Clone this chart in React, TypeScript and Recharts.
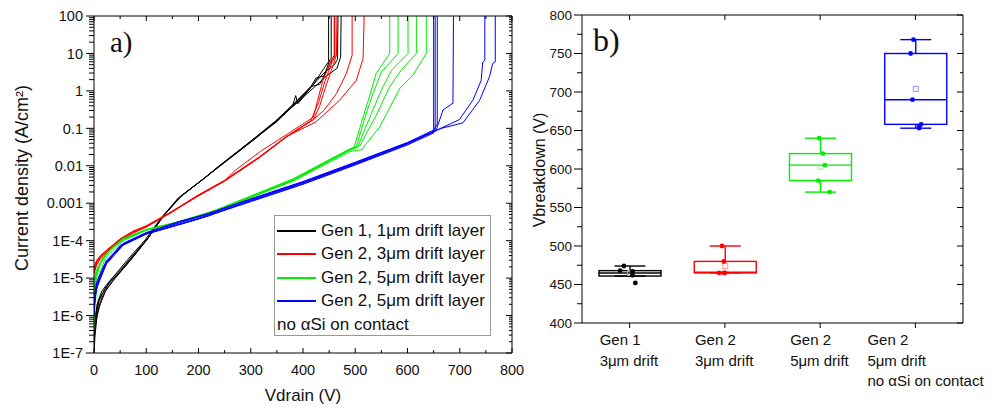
import { LineChart, Line, XAxis, YAxis, ComposedChart, Bar, Scatter } from "recharts";

const FONT = '"Liberation Sans", Arial, sans-serif';
const SERIF = '"Liberation Serif", "Times New Roman", serif';
const INK = "#111";

type Pair = [number, number];

// panel a) — [Vdrain (V), current density (A/cm²)] per sweep
const gen1Sweeps: Pair[][] = [
  [[0, 1e-7], [2, 3e-7], [6, 1e-6], [12, 2e-6], [22, 4.5e-6], [38, 9e-6], [70, 3e-5], [100, 1e-4], [132, 4.5e-4], [165, 1.5e-3], [210, 4.5e-3], [240, 1e-2], [305, 5e-2], [350, 0.15], [380, 0.4], [386, 0.75], [390, 0.45], [420, 1.5], [440, 4], [449, 6], [449, 100]],
  [[0, 2e-7], [3, 6e-7], [8, 1.5e-6], [15, 3e-6], [25, 5.5e-6], [40, 1e-5], [72, 3.3e-5], [102, 1.1e-4], [130, 4e-4], [160, 1.3e-3], [205, 4e-3], [235, 8.5e-3], [300, 4.5e-2], [345, 0.14], [380, 0.38], [410, 1.0], [425, 2.2], [440, 2.5], [452, 7], [454, 7.5], [454, 100]],
  [[0, 1.5e-7], [2, 5e-7], [5, 1.2e-6], [10, 2.5e-6], [20, 5e-6], [35, 1e-5], [65, 3.2e-5], [98, 1.05e-4], [128, 4e-4], [162, 1.4e-3], [208, 4.3e-3], [238, 9.5e-3], [302, 4.8e-2], [348, 0.16], [382, 0.45], [415, 1.3], [432, 1.5], [448, 4], [458, 8], [460, 9], [460, 100]],
  [[0, 4e-7], [3, 1e-6], [8, 2.5e-6], [15, 4.5e-6], [30, 8.5e-6], [50, 1.6e-5], [80, 5e-5], [104, 1.2e-4], [135, 5e-4], [168, 1.6e-3], [212, 4.8e-3], [242, 1e-2], [308, 5.2e-2], [352, 0.17], [385, 0.48], [418, 1.4], [440, 3], [460, 5], [466, 7], [467, 100]],
  [[0, 3e-7], [2, 8e-7], [6, 2e-6], [14, 3.5e-6], [28, 7e-6], [48, 1.4e-5], [78, 4.5e-5], [103, 1.15e-4], [134, 4.8e-4], [166, 1.5e-3], [210, 4.5e-3], [240, 9.8e-3], [306, 5e-2], [350, 0.16], [384, 0.42], [420, 1.2], [445, 2.5], [465, 4], [472, 8], [473, 100]],
];

const gen2ThinSweeps: Pair[][] = [
  [[0, 1.3e-5], [5, 2.2e-5], [12, 3.3e-5], [25, 5e-5], [50, 1e-4], [75, 1.6e-4], [100, 2.3e-4], [145, 5.3e-4], [196, 1.5e-3], [250, 4e-3], [270, 7.5e-3], [320, 2.5e-2], [370, 0.07], [420, 0.2], [428, 0.56], [438, 1.9], [455, 7], [460, 8], [460, 100]],
  [[0, 1.6e-5], [5, 2.6e-5], [12, 3.7e-5], [24, 5.2e-5], [50, 1.08e-4], [75, 1.75e-4], [100, 2.45e-4], [145, 5.5e-4], [196, 1.55e-3], [250, 4.1e-3], [317, 1.75e-2], [368, 6e-2], [415, 0.16], [430, 0.5], [442, 1.8], [456, 6], [461, 8], [461, 100]],
  [[0, 1.9e-5], [5, 3e-5], [12, 4e-5], [24, 5.6e-5], [50, 1.12e-4], [75, 1.8e-4], [100, 2.5e-4], [145, 5.6e-4], [196, 1.5e-3], [250, 3.9e-3], [317, 1.65e-2], [368, 5.8e-2], [420, 0.17], [432, 0.4], [445, 1.5], [458, 5], [464, 9], [465, 100]],
  [[0, 1.4e-5], [5, 2.4e-5], [12, 3.4e-5], [24, 4.9e-5], [50, 1.02e-4], [75, 1.65e-4], [100, 2.35e-4], [145, 5.4e-4], [196, 1.45e-3], [250, 3.9e-3], [317, 1.7e-2], [368, 5.9e-2], [419, 0.17], [440, 0.3], [464, 0.85], [483, 2.9], [494, 9], [494, 100]],
  [[0, 1.7e-5], [5, 2.8e-5], [12, 3.8e-5], [24, 5.3e-5], [50, 1.1e-4], [75, 1.75e-4], [100, 2.4e-4], [145, 5.5e-4], [196, 1.52e-3], [250, 4e-3], [317, 1.72e-2], [368, 6e-2], [425, 0.15], [470, 0.56], [502, 1.9], [515, 7.3], [517, 100]],
];

const gen2ThickSweeps: Pair[][] = [
  [[0, 8e-6], [5, 1.5e-5], [18, 3.5e-5], [35, 6.3e-5], [56, 1.1e-4], [100, 1.95e-4], [164, 3.3e-4], [228, 6.2e-4], [292, 1.4e-3], [381, 4.5e-3], [480, 2.4e-2], [498, 3.2e-2], [515, 0.2], [527, 0.69], [540, 2.9], [566, 10], [566, 100]],
  [[0, 1e-5], [5, 1.7e-5], [18, 3.8e-5], [35, 6.6e-5], [56, 1.15e-4], [100, 2e-4], [164, 3.2e-4], [228, 6e-4], [292, 1.38e-3], [381, 4.3e-3], [483, 2.5e-2], [502, 3.3e-2], [521, 0.25], [534, 0.85], [550, 3.2], [582, 10], [582, 100]],
  [[0, 5e-6], [4, 1.2e-5], [15, 3e-5], [32, 6e-5], [56, 1.1e-4], [100, 1.9e-4], [164, 3.1e-4], [228, 5.8e-4], [292, 1.33e-3], [381, 4.1e-3], [485, 2.5e-2], [505, 3.3e-2], [531, 0.25], [550, 1.05], [569, 3.5], [601, 10], [601, 100]],
  [[0, 3e-6], [3, 8e-6], [12, 2.5e-5], [30, 5.5e-5], [56, 1.05e-4], [100, 1.95e-4], [164, 3.15e-4], [228, 5.7e-4], [292, 1.3e-3], [381, 4e-3], [487, 2.5e-2], [508, 3.3e-2], [540, 0.22], [566, 1.3], [588, 3.6], [617, 10], [617, 100]],
  [[0, 4e-7], [2, 2e-6], [8, 1e-5], [22, 3.5e-5], [56, 1e-4], [100, 1.9e-4], [164, 3.1e-4], [228, 5.6e-4], [292, 1.28e-3], [381, 3.9e-3], [490, 2.4e-2], [512, 2.7e-2], [547, 0.11], [585, 1.15], [610, 2.6], [636, 10], [636, 100]],
];

const gen2NoSiSweeps: Pair[][] = [
  [[0, 1.5e-6], [4, 5e-6], [20, 2.2e-5], [50, 7e-5], [100, 1.5e-4], [160, 2.6e-4], [200, 3.8e-4], [300, 1.1e-3], [400, 3.2e-3], [500, 1.05e-2], [600, 3.6e-2], [650, 7.5e-2], [650, 100]],
  [[0, 2.5e-6], [5, 7e-6], [24, 2.8e-5], [56, 8e-5], [100, 1.55e-4], [164, 2.8e-4], [200, 4e-4], [300, 1.15e-3], [400, 3.3e-3], [500, 1.1e-2], [600, 3.8e-2], [653, 8.5e-2], [653, 100]],
  [[0, 1e-6], [3, 4e-6], [18, 2e-5], [50, 7.5e-5], [100, 1.6e-4], [164, 3e-4], [210, 4.8e-4], [300, 1.3e-3], [400, 3.8e-3], [500, 1.25e-2], [600, 4.2e-2], [650, 9e-2], [657, 0.13], [657, 100]],
  [[0, 2e-6], [5, 6e-6], [24, 2.6e-5], [56, 8e-5], [100, 1.6e-4], [164, 3.2e-4], [220, 5.4e-4], [300, 1.3e-3], [400, 3.7e-3], [500, 1.2e-2], [600, 4.1e-2], [655, 9e-2], [668, 0.31], [687, 0.47], [688, 100]],
  [[0, 3e-6], [5, 8e-6], [24, 3e-5], [56, 8.5e-5], [100, 1.65e-4], [164, 3.3e-4], [220, 5.2e-4], [300, 1.25e-3], [400, 3.6e-3], [500, 1.15e-2], [600, 4e-2], [660, 9.5e-2], [699, 0.17], [725, 0.56], [741, 1.9], [744, 5.9], [748, 6.5], [748, 100]],
  [[0, 1.8e-6], [5, 5.5e-6], [24, 2.4e-5], [56, 7.6e-5], [100, 1.5e-4], [164, 2.7e-4], [220, 4.6e-4], [300, 1.2e-3], [400, 3.5e-3], [500, 1.12e-2], [600, 3.9e-2], [665, 0.1], [706, 0.14], [738, 0.56], [757, 2.4], [763, 5.4], [768, 6], [768, 100]],
];

const legendLabels = ["Gen 1, 1μm drift layer", "Gen 2, 3μm drift layer", "Gen 2, 5μm drift layer", "Gen 2, 5μm drift layer"];
const seriesColors = ["#000000", "#ff0000", "#00ee00", "#0000ff"];

const decades = [1e-7, 1e-6, 1e-5, 1e-4, 1e-3, 1e-2, 0.1, 1, 10, 100];
const decadeLabels = ["1E-7", "1E-6", "1E-5", "1E-4", "0.001", "0.01", "0.1", "1", "10", "100"];
const vdrainTicks = [0, 50, 100, 150, 200, 250, 300, 350, 400, 450, 500, 550, 600, 650, 700, 750, 800];

// panel b) — breakdown voltage box plots
const categories = [
  ["Gen 1", "3μm drift"],
  ["Gen 2", "3μm drift"],
  ["Gen 2", "5μm drift"],
  ["Gen 2", "5μm drift", "no αSi on contact"],
];
const vbMin = [461, 465, 570, 653];
const vbQ1 = [461, 465, 585, 658];
const vbMedian = [465, 466, 605, 690];
const vbQ3 = [468, 480, 620, 750];
const vbMax = [474, 500, 640, 768];
const vbMean = [465, 474, 603, 704];
const vbPoints = [
  [474, 468, 467, 462, 452],
  [500, 480, 465, 465, 465],
  [640, 620, 605, 585, 570],
  [768, 750, 690, 658, 655, 653],
];
const vbJitter = [
  [-0.06, -0.1, 0.03, 0.03, 0.06],
  [-0.03, -0.01, -0.06, -0.01, 0.0],
  [-0.01, 0.03, 0.05, -0.02, 0.1],
  [-0.02, -0.05, -0.03, 0.06, 0.04, 0.04],
];
const meanColors = ["#999999", "#ff9999", "#99ee99", "#9999ff"];
const vbTicks = [400, 425, 450, 475, 500, 525, 550, 575, 600, 625, 650, 675, 700, 725, 750, 775, 800];

const sweepGroups = [gen1Sweeps, gen2ThinSweeps, gen2ThickSweeps, gen2NoSiSweeps];

const jTicks: number[] = [];
decades.forEach((d, i) => {
  jTicks.push(d);
  if (i < decades.length - 1) for (let m = 2; m <= 9; m++) jTicks.push(m * d);
});

const isDecade = (v: number) => Math.abs(Math.log10(v) - Math.round(Math.log10(v))) < 1e-6;
const decadeLabel = (v: number) => decadeLabels[decades.findIndex((d) => Math.abs(Math.log10(d) - Math.log10(v)) < 1e-6)];

// ---- tick renderers (tickSize 0 so x/y sit on the axis line)
const JLeftTick = (p: any) => {
  const major = isDecade(p.payload.value);
  return (
    <g>
      <line x1={p.x} x2={p.x - (major ? 8 : 5)} y1={p.y} y2={p.y} stroke="#000" />
      {major && (
        <text x={p.x - 11} y={p.y} dy="0.36em" textAnchor="end" fontSize={14.5} fontFamily={FONT} fill={INK}>
          {decadeLabel(p.payload.value)}
        </text>
      )}
    </g>
  );
};
const JRightTick = (p: any) => {
  const major = isDecade(p.payload.value);
  return <line x1={p.x} x2={p.x - (major ? 6 : 3)} y1={p.y} y2={p.y} stroke="#000" />;
};
const VBottomTick = (p: any) => {
  const major = p.payload.value % 100 === 0;
  return (
    <g>
      <line x1={p.x} x2={p.x} y1={p.y} y2={p.y - (major ? 5 : 3)} stroke="#000" />
      {major && (
        <text x={p.x} y={p.y + 22} textAnchor="middle" fontSize={14.5} fontFamily={FONT} fill={INK}>
          {p.payload.value}
        </text>
      )}
    </g>
  );
};
const VTopTick = (p: any) => {
  const major = p.payload.value % 100 === 0;
  return <line x1={p.x} x2={p.x} y1={p.y} y2={p.y + (major ? 5 : 3)} stroke="#000" />;
};

const VbLeftTick = (p: any) => {
  const major = p.payload.value % 50 === 0;
  return (
    <g>
      <line x1={p.x} x2={p.x - (major ? 8 : 5)} y1={p.y} y2={p.y} stroke="#000" />
      {major && (
        <text x={p.x - 10} y={p.y} dy="0.36em" textAnchor="end" fontSize={13.5} fontFamily={FONT} fill={INK}>
          {p.payload.value}
        </text>
      )}
    </g>
  );
};
const VbRightTick = (p: any) => {
  const major = p.payload.value % 50 === 0;
  return <line x1={p.x} x2={p.x - (major ? 6 : 3)} y1={p.y} y2={p.y} stroke="#000" />;
};
const CatTick = (p: any) => {
  const lines = categories[p.index] || [];
  const left = p.x - 30 - (lines.length > 2 ? 18 : 0);
  return (
    <g>
      <line x1={p.x} x2={p.x} y1={p.y} y2={p.y + 5} stroke="#000" />
      {lines.map((t, i) => (
        <text key={i} x={left} y={p.y + 22 + i * 20.5} fontSize={15} fontFamily={FONT} fill={INK}>
          {t}
        </text>
      ))}
    </g>
  );
};
const CatTopTick = (p: any) => <line x1={p.x} x2={p.x} y1={p.y} y2={p.y + 5} stroke="#000" />;

const JTitle = () => (
  <text transform="translate(22,178) rotate(-90)" textAnchor="middle" dominantBaseline="central" fontSize={18} fontFamily={FONT} fill={INK}>
    Current density (A/cm²)
  </text>
);
const VdrainTitle = () => (
  <text x={303} y={401} textAnchor="middle" fontSize={17} fontFamily={FONT} fill={INK}>
    Vdrain (V)
  </text>
);
const VbTitle = () => (
  <text transform="translate(39,170) rotate(-90)" textAnchor="middle" dominantBaseline="central" fontSize={16} fontFamily={FONT} fill={INK}>
    Vbreakdown (V)
  </text>
);

const BoxShape = (p: any) => {
  const d = p.payload;
  const top = Math.min(p.y, p.y + p.height);
  const h = Math.abs(p.height);
  const py = (v: number) => (d.max === d.min ? top : top + ((d.max - v) / (d.max - d.min)) * h);
  const cx = p.x + p.width / 2;
  const cap = p.width / 4;
  return (
    <g stroke={d.color} strokeWidth={1.4} fill="none">
      <line x1={cx} x2={cx} y1={py(d.max)} y2={py(d.q3)} />
      <line x1={cx} x2={cx} y1={py(d.q1)} y2={py(d.min)} />
      <line x1={cx - cap} x2={cx + cap} y1={py(d.max)} y2={py(d.max)} />
      <line x1={cx - cap} x2={cx + cap} y1={py(d.min)} y2={py(d.min)} />
      <rect x={p.x} y={py(d.q3)} width={p.width} height={py(d.q1) - py(d.q3)} />
      <line x1={p.x} x2={p.x + p.width} y1={py(d.median)} y2={py(d.median)} />
      <rect x={cx - 2.5} y={py(d.mean) - 2.5} width={5} height={5} stroke={d.meanColor} strokeWidth={1} />
    </g>
  );
};

const boxData = categories.map((c, i) => ({
  name: c.join(" "),
  range: [vbMin[i], vbMax[i]],
  min: vbMin[i],
  q1: vbQ1[i],
  median: vbMedian[i],
  q3: vbQ3[i],
  max: vbMax[i],
  mean: vbMean[i],
  color: seriesColors[i],
  meanColor: meanColors[i],
}));

function PanelA() {
  return (
    <div style={{ position: "absolute", left: 0, top: 0, width: 530, height: 408 }}>
      <LineChart width={530} height={408} margin={{ top: 16, right: 18, bottom: 25, left: 34 }}>
        <XAxis xAxisId="v" type="number" dataKey="v" domain={[0, 800]} allowDataOverflow ticks={vdrainTicks} interval={0}
          height={30} tickSize={0} tickMargin={0} tickLine={false} tick={VBottomTick} axisLine={{ stroke: "#000" }} label={<VdrainTitle />} />
        <XAxis xAxisId="vTop" orientation="top" mirror type="number" dataKey="v" domain={[0, 800]} allowDataOverflow ticks={vdrainTicks}
          interval={0} tickSize={0} tickMargin={0} tickLine={false} tick={VTopTick} axisLine={{ stroke: "#000" }} />
        <YAxis yAxisId="j" type="number" scale="log" dataKey="j" domain={[1e-7, 100]} allowDataOverflow ticks={jTicks} interval={0}
          width={60} tickSize={0} tickMargin={0} tickLine={false} tick={JLeftTick} axisLine={{ stroke: "#000" }} label={<JTitle />} />
        <YAxis yAxisId="jRight" orientation="right" mirror type="number" scale="log" dataKey="j" domain={[1e-7, 100]} allowDataOverflow
          ticks={jTicks} interval={0} tickSize={0} tickMargin={0} tickLine={false} tick={JRightTick} axisLine={{ stroke: "#000" }} />
        {sweepGroups.map((group, gi) =>
          group.map((sweep, si) => (
            <Line
              key={`${gi}-${si}`}
              xAxisId="v"
              yAxisId="j"
              data={sweep.map(([v, j]) => ({ v, j }))}
              dataKey="j"
              type="linear"
              stroke={seriesColors[gi]}
              strokeWidth={1}
              dot={false}
              activeDot={false}
              isAnimationActive={false}
            />
          ))
        )}
      </LineChart>
      <div style={{ position: "absolute", left: 110, top: 25, fontFamily: SERIF, fontSize: 29, lineHeight: "34px", color: INK }}>a)</div>
      <div
        style={{
          position: "absolute", left: 274, top: 215, width: 217, height: 121, border: "1px solid #999",
          background: "#fff", fontFamily: FONT, fontSize: 17, color: INK, boxSizing: "border-box",
        }}
      >
        {legendLabels.map((t, i) => (
          <div key={i} style={{ position: "absolute", left: 2, top: 3 + i * 23.5, height: 23, display: "flex", alignItems: "center", whiteSpace: "nowrap" }}>
            <span style={{ display: "inline-block", width: 39, height: 2, background: seriesColors[i], marginRight: 5 }} />
            {t}
          </div>
        ))}
        <div style={{ position: "absolute", left: 2, top: 3 + 4 * 23.5, height: 23, display: "flex", alignItems: "center", whiteSpace: "nowrap" }}>
          no αSi on contact
        </div>
      </div>
    </div>
  );
}

function PanelB() {
  return (
    <div style={{ position: "absolute", left: 500, top: 0, width: 498, height: 408 }}>
      <ComposedChart width={498} height={408} data={boxData} margin={{ top: 15, right: 35, bottom: 15, left: 22 }}>
        <XAxis dataKey="name" type="category" height={70} interval={0} tickSize={0} tickMargin={0} tickLine={false}
          tick={CatTick} axisLine={{ stroke: "#000" }} />
        <XAxis xAxisId="pts" orientation="top" mirror type="number" dataKey="x" domain={[-0.5, 3.5]} allowDataOverflow ticks={[0, 1, 2, 3]}
          interval={0} tickSize={0} tickMargin={0} tickLine={false} tick={CatTopTick} axisLine={{ stroke: "#000" }} />
        <YAxis type="number" domain={[400, 800]} allowDataOverflow ticks={vbTicks} interval={0} width={60} tickSize={0} tickMargin={0}
          tickLine={false} tick={VbLeftTick} axisLine={{ stroke: "#000" }} label={<VbTitle />} />
        <YAxis yAxisId="pts" orientation="right" mirror type="number" dataKey="y" domain={[400, 800]} allowDataOverflow ticks={vbTicks}
          interval={0} tickSize={0} tickMargin={0} tickLine={false} tick={VbRightTick} axisLine={{ stroke: "#000" }} />
        <Bar dataKey="range" barSize={62} shape={BoxShape} isAnimationActive={false} />
        {vbPoints.map((pts, i) => (
          <Scatter
            key={i}
            xAxisId="pts"
            yAxisId="pts"
            data={pts.map((y, k) => ({ x: i + vbJitter[i][k], y }))}
            fill={seriesColors[i]}
            shape={(s: any) => <circle cx={s.cx} cy={s.cy} r={2.4} fill={seriesColors[i]} />}
            isAnimationActive={false}
          />
        ))}
      </ComposedChart>
      <div style={{ position: "absolute", left: 93, top: 21, fontFamily: SERIF, fontSize: 32, lineHeight: "38px", color: INK }}>b)</div>
    </div>
  );
}

export default function App() {
  return (
    <div style={{ position: "absolute", left: 0, top: 0, width: 998, height: 408, background: "#fff", overflow: "hidden" }}>
      <PanelA />
      <PanelB />
    </div>
  );
}
